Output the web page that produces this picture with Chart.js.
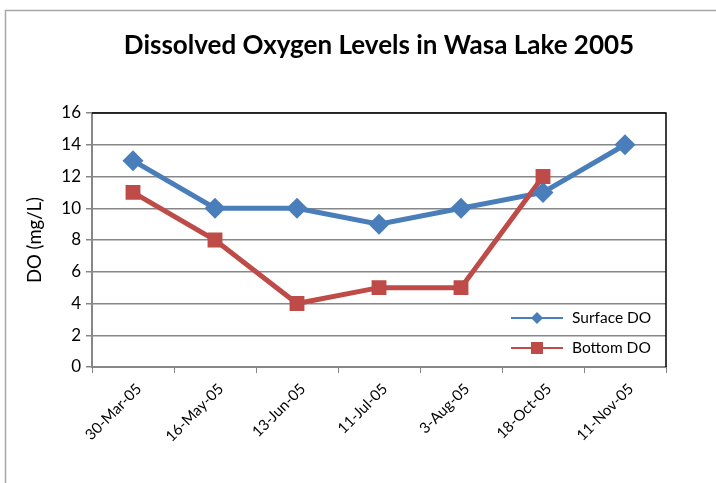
<!DOCTYPE html>
<html>
<head>
<meta charset="utf-8">
<script src="https://cdn.jsdelivr.net/npm/chart.js@4.4.0/dist/chart.umd.min.js"></script>
<style>
  html, body { margin: 0; padding: 0; background: #fff; }
  #wrap { width: 716px; height: 483px; }
</style>
</head>
<body>
<div id="wrap"><canvas id="myChart"></canvas></div>
<script>
// data
const dates = ["30-Mar-05", "16-May-05", "13-Jun-05", "11-Jul-05", "3-Aug-05", "18-Oct-05", "11-Nov-05"];
const surfaceDO = [13, 10, 10, 9, 10, 11, 14];
const bottomDO = [11, 8, 4, 5, 5, 12, null];
const yTicks = [0, 2, 4, 6, 8, 10, 12, 14, 16];

const blue = "#4a7ebb";
const red = "#be4b48";
const axisGray = "#878787";

// frame, black top/right edge and legend inside the plot
const extras = {
  id: "extras",
  beforeDraw(chart) {
    const ctx = chart.ctx;
    ctx.save();
    ctx.strokeStyle = "#a6a6a6";
    ctx.lineWidth = 1.5;
    ctx.beginPath();
    ctx.moveTo(5.5, 483);
    ctx.lineTo(5.5, 10.5);
    ctx.lineTo(716, 10.5);
    ctx.stroke();
    ctx.restore();
  },
  afterDraw(chart) {
    const ctx = chart.ctx;
    const a = chart.chartArea;
    ctx.save();
    ctx.strokeStyle = "#000";
    ctx.lineWidth = 1.5;
    ctx.beginPath();
    ctx.moveTo(a.left, a.top);
    ctx.lineTo(a.right, a.top);
    ctx.lineTo(a.right, a.bottom);
    ctx.stroke();

    // legend (only the two line series)
    const rows = [318, 348];
    chart.data.datasets.slice(0, 2).forEach(function (ds, i) {
      const y = rows[i];
      ctx.strokeStyle = ds.borderColor;
      ctx.lineWidth = 2;
      ctx.beginPath();
      ctx.moveTo(511, y);
      ctx.lineTo(563, y);
      ctx.stroke();
      ctx.fillStyle = ds.borderColor;
      if (ds.pointStyle === "rectRot") {
        ctx.beginPath();
        ctx.moveTo(537, y - 6);
        ctx.lineTo(543, y);
        ctx.lineTo(537, y + 6);
        ctx.lineTo(531, y);
        ctx.closePath();
        ctx.fill();
      } else {
        ctx.fillRect(531, y - 6, 12, 12);
      }
      ctx.fillStyle = "#000";
      ctx.font = "15.5px Lato";
      ctx.textBaseline = "middle";
      ctx.fillText(ds.label, 572, y);
    });
    ctx.restore();
  }
};

new Chart(document.getElementById("myChart"), {
  type: "line",
  data: {
    labels: dates,
    datasets: [
      {
        label: "Surface DO",
        data: surfaceDO,
        borderColor: blue,
        backgroundColor: blue,
        borderWidth: 5,
        pointStyle: "rectRot",
        pointRadius: 0,
        order: 4,
      },
      {
        label: "Bottom DO",
        data: bottomDO,
        borderColor: red,
        backgroundColor: red,
        borderWidth: 5,
        pointStyle: "rect",
        pointRadius: 0,
        order: 3,
      },
      // markers drawn after both lines, like the original
      {
        label: "Surface DO markers",
        data: surfaceDO,
        showLine: false,
        backgroundColor: blue,
        pointStyle: "rectRot",
        pointRadius: 10.5,
        pointHoverRadius: 10.5,
        pointBorderWidth: 0,
        order: 2,
      },
      {
        label: "Bottom DO markers",
        data: bottomDO,
        showLine: false,
        backgroundColor: red,
        pointStyle: "rect",
        pointRadius: 10.5,
        pointHoverRadius: 10.5,
        pointBorderWidth: 0,
        order: 1,
      },
    ],
  },
  options: {
    responsive: true,
    maintainAspectRatio: false,
    animation: false,
    layout: { padding: { left: 0, right: 50, top: 0, bottom: 0 } },
    scales: {
      x: {
        offset: true,
        grid: {
          offset: true,
          drawOnChartArea: false,
          drawTicks: true,
          tickLength: 6,
          color: axisGray,
        },
        border: { color: axisGray, width: 2 },
        ticks: {
          color: "#000",
          font: { size: 15, family: "Lato" },
          minRotation: 45,
          maxRotation: 45,
          padding: 7,
          labelOffset: 6,
        },
        afterFit: function (scale) {
          scale.height = 116;
        },
      },
      y: {
        min: 0,
        max: 16,
        afterBuildTicks: function (scale) {
          scale.ticks = yTicks.map(function (v) { return { value: v }; });
        },
        grid: {
          color: axisGray,
          lineWidth: 1.5,
          tickLength: 6,
        },
        border: { color: axisGray, width: 2 },
        ticks: {
          color: "#000",
          font: { size: 17, family: "Lato" },
          padding: 5,
        },
        title: {
          display: true,
          text: "DO (mg/L)",
          color: "#000",
          font: { size: 18.5, family: "Lato" },
          padding: { top: 24 },
        },
        afterFit: function (scale) {
          scale.width = 92;
        },
      },
    },
    plugins: {
      legend: { display: false },
      tooltip: { enabled: false },
      title: {
        display: true,
        fullSize: false,
        text: "Dissolved Oxygen Levels in Wasa Lake 2005",
        color: "#000",
        font: { size: 26, weight: "bold", family: "Lato", lineHeight: 1.2 },
        padding: { top: 30, bottom: 51.8 },
      },
    },
  },
  plugins: [extras],
});
</script>
</body>
</html>
